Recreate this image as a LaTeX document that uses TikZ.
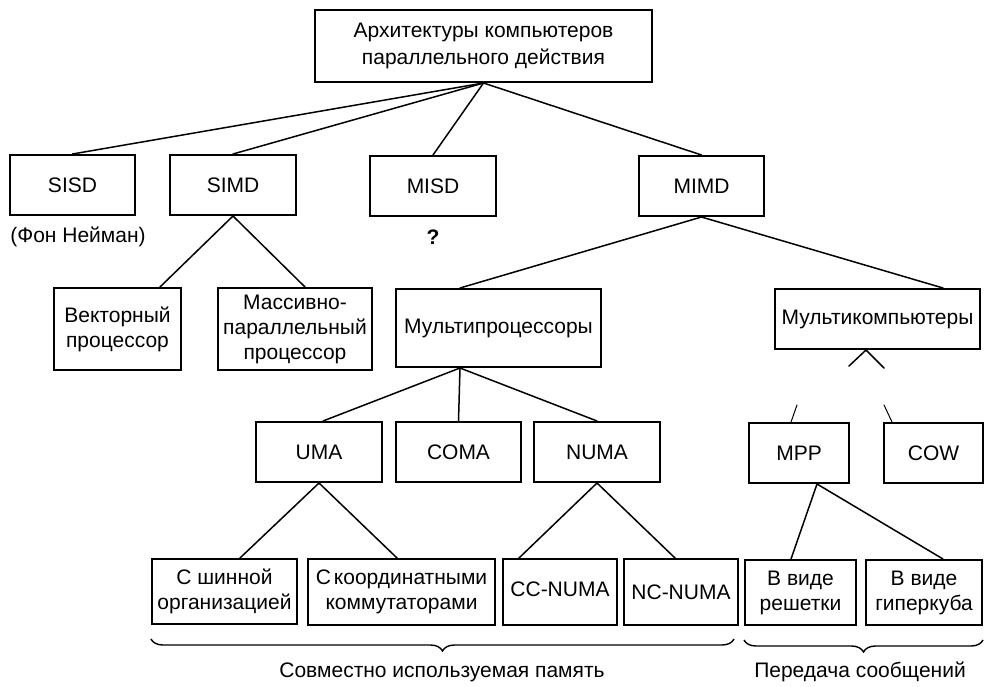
\documentclass[tikz,border=0pt]{standalone}
\usepackage{fontspec}
\setmainfont{Liberation Sans}
\usetikzlibrary{decorations.pathreplacing}
\begin{document}
\begin{tikzpicture}[x=1pt,y=-1pt,
  box/.style={draw, line width=2pt, inner sep=0pt, align=center, font=\fontsize{21}{25}\selectfont},
  conn/.style={line width=1.5pt, line cap=round},
  frag/.style={line width=1pt, line cap=round},
  lbl/.style={inner sep=0pt, font=\fontsize{21}{25}\selectfont},
  bracepath/.style={line width=1.4pt, decorate, decoration={brace, mirror, amplitude=12pt}}]
\useasboundingbox (0,0) rectangle (987,686);

% level 0
\node[box, minimum width=337pt, minimum height=72pt, font=\fontsize{21}{27}\selectfont] (root) at (483.5,46) {Архитектуры компьютеров\\параллельного действия};

% level 1
\node[box, minimum width=125pt, minimum height=60pt] (sisd) at (72.5,185) {SISD};
\node[box, minimum width=126pt, minimum height=60pt] (simd) at (233,185) {SIMD};
\node[box, minimum width=126pt, minimum height=60pt] (misd) at (433,186) {MISD};
\node[box, minimum width=125pt, minimum height=60pt] (mimd) at (701.5,186) {MIMD};
\node[lbl] (vonneumann) at (78,237) {(Фон Нейман)};
\node[lbl] (question) at (433,237) {\textbf{?}};

% level 2
\node[box, minimum width=127pt, minimum height=82pt] (vec) at (117.5,329) {Векторный\\процессор};
\node[box, minimum width=154pt, minimum height=82pt] (mpar) at (295,329) {Массивно-\\параллельный\\процессор};
\node[box, minimum width=205pt, minimum height=78pt] (mproc) at (498.5,328) {Мультипроцессоры};
\node[box, minimum width=205pt, minimum height=60pt] (mcomp) at (877.5,319) {Мультикомпьютеры};

% level 3
\node[box, minimum width=126pt, minimum height=60pt] (uma) at (319,452) {UMA};
\node[box, minimum width=125pt, minimum height=60pt] (coma) at (458.5,452) {COMA};
\node[box, minimum width=126pt, minimum height=60pt] (numa) at (597,452) {NUMA};
\node[box, minimum width=100pt, minimum height=60pt] (mpp) at (799,453) {MPP};
\node[box, minimum width=99pt, minimum height=60pt] (cow) at (933.5,453) {COW};

% level 4
\node[box, minimum width=145pt, minimum height=65pt] (bus) at (224.5,591.5) {С шинной\\организацией};
\node[box, minimum width=187pt, minimum height=66pt] (xbar) at (401.5,592) {С\hspace{3pt}координатными\\коммутаторами};
\node[box, minimum width=114pt, minimum height=66pt] (ccnuma) at (560,592) {\raisebox{5pt}{CC-NUMA}};
\node[box, minimum width=114pt, minimum height=66pt] (ncnuma) at (681,592) {NC-NUMA};
\node[box, minimum width=111pt, minimum height=65pt] (grid) at (800.5,592.5) {В виде\\решетки};
\node[box, minimum width=116pt, minimum height=65pt] (cube) at (924,592.5) {В виде\\гиперкуба};

% connectors level 0 -> 1
\draw[conn] (root.south) -- (sisd.north);
\draw[conn] (root.south) -- (simd.north);
\draw[conn] (root.south) -- (misd.north);
\draw[conn] (root.south) -- (mimd.north);

% SIMD
\draw[conn] ([xshift=42.5pt]vec.north) -- (simd.south) -- ([xshift=10pt]mpar.north);
% MIMD
\draw[conn] ([xshift=-38.5pt]mproc.north) -- (mimd.south) -- ([xshift=65.5pt]mcomp.north);
% Multiprocessors
\draw[conn] ([xshift=-38.5pt]mproc.south) -- ([xshift=4pt]uma.north);
\draw[conn] ([xshift=-38.5pt]mproc.south) -- (coma.north);
\draw[conn] ([xshift=-38.5pt]mproc.south) -- (numa.north);
% UMA
\draw[conn] ([xshift=15.5pt]bus.north) -- (uma.south) -- ([xshift=-4.5pt]xbar.north);
% NUMA
\draw[conn] ([xshift=-41pt]ccnuma.north) -- (numa.south) -- ([xshift=-6pt]ncnuma.north);
% MPP
\draw[conn] ([xshift=-9.5pt]grid.north) -- ([xshift=18pt]mpp.south) -- ([xshift=19pt]cube.north);

% Multicomputers (broken connectors)
\coordinate (mcapex) at ([xshift=-11.5pt]mcomp.south);
\coordinate (k1) at (849,366);
\coordinate (k2) at (884,368);
\coordinate (k3) at (797,405);
\coordinate (k4) at (884,405);
\draw[conn] (k1) -- (mcapex) -- (k2);
\draw[frag] (k3) -- ([xshift=-8pt]mpp.north);
\draw[frag] (k4) -- ([xshift=-41.5pt]cow.north);

% braces
\draw[bracepath] ([yshift=-14pt]bus.south west) -- ([xshift=-5pt,yshift=-13pt]ncnuma.south east);
\draw[bracepath] ([yshift=-14pt]grid.south west) -- ([yshift=-14pt]cube.south east);
\node[lbl] (sharedmem) at (442,672) {Совместно используемая память};
\node[lbl] (msgpass) at (860,672) {Передача сообщений};
\end{tikzpicture}
\end{document}
